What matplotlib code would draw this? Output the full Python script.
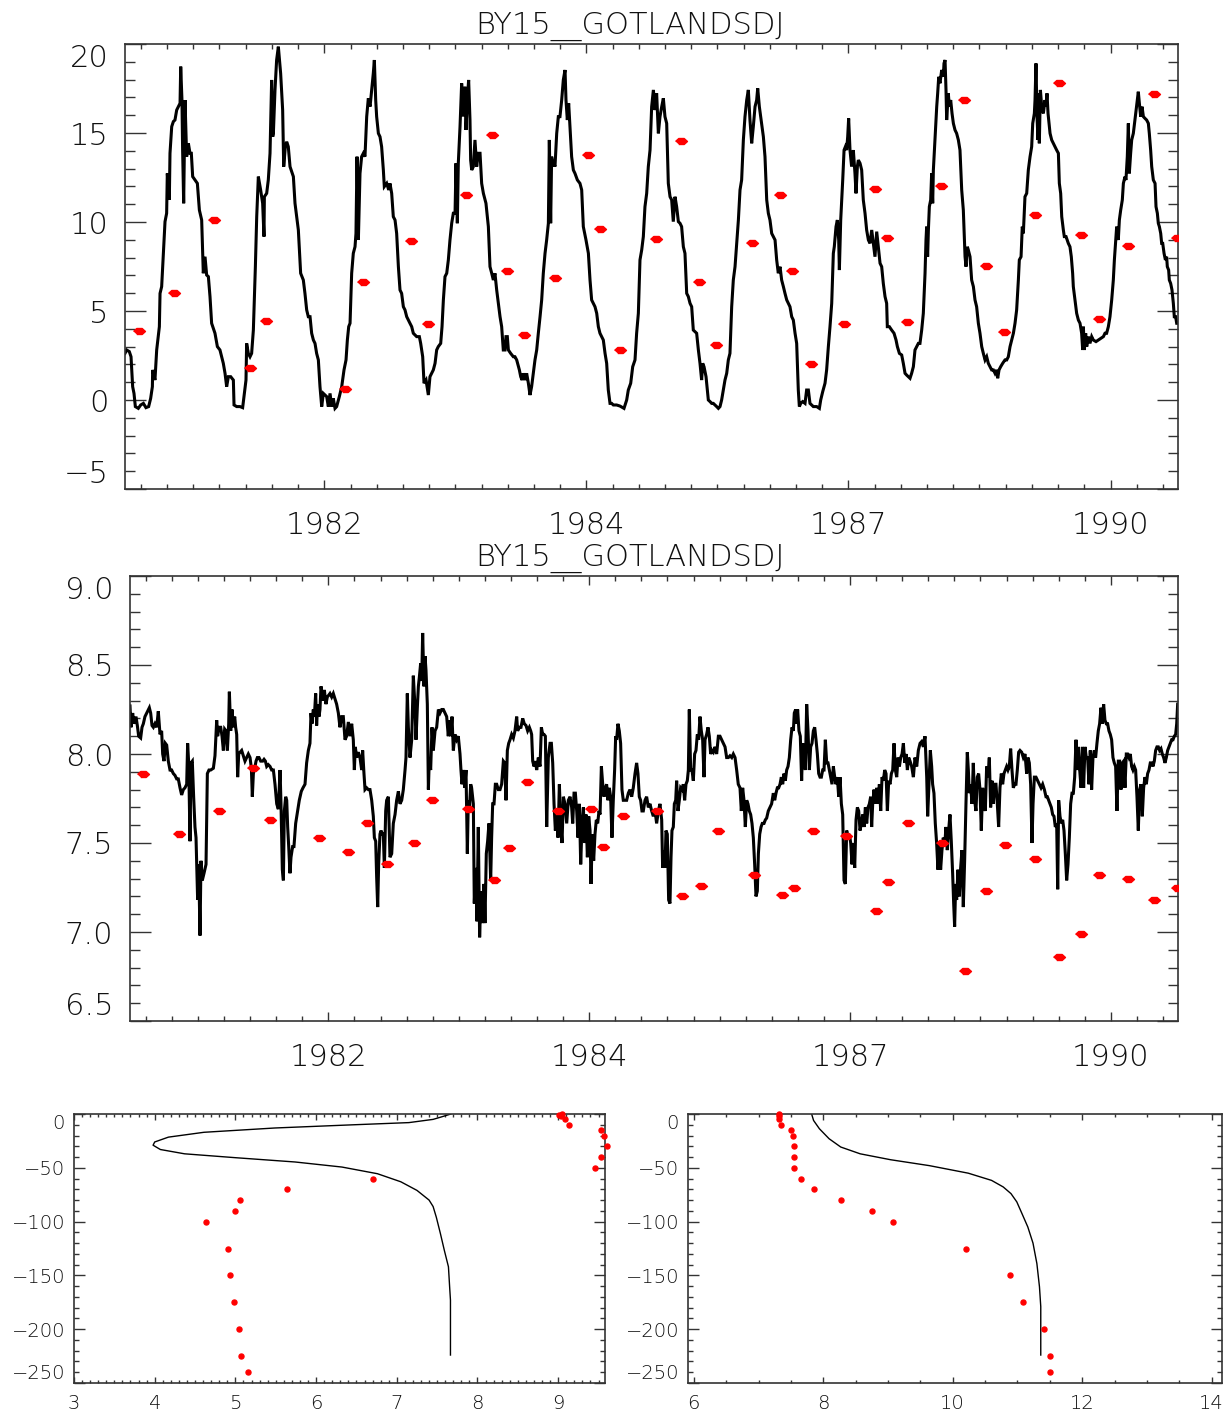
import numpy as np
import matplotlib
matplotlib.use('Agg')
import matplotlib.pyplot as plt
from matplotlib.ticker import MultipleLocator, FixedLocator, FuncFormatter

plt.rcParams['font.family'] = ['DejaVu Sans']
plt.rcParams['font.weight'] = 'light'

STATION = 'BY15__GOTLANDSDJ'

# time axis: years since 1980-01-01, record ends 1991-01-01 (4018 days)
RECORD_DAYS = 4018
tick_days = np.arange(760.5, RECORD_DAYS, 1000)      # JD multiples of 1000
minor_days = np.arange(60.5, RECORD_DAYS, 100)
tick_years = ['1982', '1984', '1987', '1990']

# surface temperature, model (years since 1980, deg C)
sst_model = [
    (0.000, 2.62), (0.017, 2.81), (0.045, 2.72), (0.063, 2.43), (0.080, 0.75), (0.094, 0.37), (0.108, -0.37),
    (0.139, -0.47), (0.164, -0.28), (0.192, -0.19), (0.219, -0.43), (0.247, -0.37), (0.268, 0.09), (0.286, 0.75),
    (0.289, 1.69), (0.313, 1.12), (0.331, 2.81), (0.359, 4.12), (0.366, 5.99), (0.383, 6.37), (0.394, 7.49),
    (0.407, 8.80), (0.418, 10.02), (0.435, 10.49), (0.442, 12.73), (0.463, 11.24), (0.470, 13.86), (0.488, 15.36),
    (0.505, 15.64), (0.522, 15.73), (0.540, 16.29), (0.557, 16.48), (0.575, 16.67), (0.582, 18.73), (0.595, 16.85),
    (0.602, 14.04), (0.613, 11.05), (0.627, 16.85), (0.644, 13.67), (0.662, 14.42), (0.679, 13.86), (0.693, 13.86),
    (0.707, 12.55), (0.731, 12.36), (0.756, 12.17), (0.777, 10.67), (0.801, 10.11), (0.818, 7.12), (0.836, 8.05),
    (0.853, 7.02), (0.871, 6.93), (0.888, 5.81), (0.905, 4.31), (0.940, 3.75), (0.965, 3.00), (0.992, 2.81),
    (1.027, 2.06), (1.045, 1.50), (1.062, 0.75), (1.080, 1.31), (1.104, 1.31), (1.132, 1.12), (1.139, -0.28),
    (1.167, -0.37), (1.201, -0.37), (1.229, -0.43), (1.247, 0.37), (1.264, 1.12), (1.271, 3.18), (1.288, 2.62),
    (1.306, 2.43), (1.323, 2.62), (1.341, 3.93), (1.351, 5.62), (1.362, 7.49), (1.376, 10.30), (1.393, 12.55),
    (1.417, 11.80), (1.438, 11.05), (1.452, 9.18), (1.456, 11.42), (1.480, 11.61), (1.497, 12.36), (1.515, 13.86),
    (1.532, 17.98), (1.543, 14.79), (1.550, 14.98), (1.567, 17.42), (1.584, 19.10), (1.602, 19.85), (1.626, 18.35),
    (1.647, 16.29), (1.658, 13.11), (1.675, 14.23), (1.689, 14.51), (1.706, 14.23), (1.724, 13.11), (1.741, 12.83),
    (1.759, 12.55), (1.776, 11.05), (1.811, 9.55), (1.835, 7.12), (1.863, 6.74), (1.880, 5.99), (1.898, 5.06),
    (1.915, 4.68), (1.933, 4.68), (1.950, 3.75), (1.968, 3.37), (1.985, 3.18), (2.002, 2.62), (2.020, 2.25),
    (2.037, 0.75), (2.055, -0.37), (2.072, 0.37), (2.089, 0.28), (2.107, 0.19), (2.124, -0.37), (2.142, 0.37),
    (2.159, -0.37), (2.176, 0.09), (2.194, -0.47), (2.211, -0.37), (2.239, 0.19), (2.264, 0.75), (2.288, 1.69),
    (2.309, 2.25), (2.323, 3.37), (2.337, 4.12), (2.351, 4.31), (2.368, 7.12), (2.385, 8.24), (2.403, 8.61),
    (2.413, 9.36), (2.424, 13.67), (2.438, 8.99), (2.455, 12.73), (2.472, 13.67), (2.490, 13.86), (2.507, 13.67),
    (2.525, 15.92), (2.542, 16.95), (2.560, 16.48), (2.577, 17.42), (2.594, 18.35), (2.605, 19.10), (2.619, 16.85),
    (2.629, 15.92), (2.647, 14.98), (2.664, 14.79), (2.681, 14.23), (2.699, 12.92), (2.709, 11.99), (2.734, 12.17),
    (2.755, 11.80),
    (2.768, 12.17), (2.786, 11.61), (2.803, 10.30), (2.821, 10.11), (2.838, 9.36), (2.856, 7.49), (2.873, 6.18),
    (2.890, 5.99), (2.908, 5.24), (2.925, 5.06), (2.943, 4.68), (2.960, 4.49), (2.977, 4.31), (2.995, 4.12),
    (3.012, 3.75), (3.030, 3.65), (3.047, 3.56), (3.075, 3.56), (3.089, 3.18), (3.110, 2.43), (3.124, 0.94),
    (3.145, 1.12), (3.169, 0.28), (3.186, 1.31), (3.204, 1.50), (3.221, 1.69), (3.239, 2.06), (3.256, 2.81),
    (3.273, 3.00), (3.298, 3.18), (3.312, 4.12), (3.326, 5.62), (3.343, 6.93), (3.361, 7.12), (3.378, 7.87),
    (3.395, 8.99), (3.413, 9.93), (3.430, 10.49), (3.448, 10.49), (3.458, 13.30), (3.472, 9.93), (3.482, 13.30),
    (3.500, 15.36), (3.517, 17.79), (3.535, 15.92), (3.552, 17.60), (3.562, 15.17), (3.576, 16.85), (3.590, 17.98),
    (3.604, 15.73), (3.611, 13.48), (3.622, 12.92), (3.639, 13.11), (3.656, 14.61), (3.674, 13.11), (3.691, 13.86),
    (3.709, 13.86), (3.726, 12.17), (3.744, 11.61), (3.771, 11.05), (3.796, 9.74), (3.813, 7.49), (3.831, 7.12),
    (3.848, 6.74), (3.865, 7.12), (3.883, 6.18), (3.900, 5.43), (3.918, 4.68), (3.935, 4.12), (3.952, 2.81),
    (3.970, 2.81), (3.980, 3.56), (3.994, 3.56), (4.005, 2.81), (4.029, 2.62), (4.057, 2.43), (4.074, 2.43),
    (4.092, 2.25), (4.120, 1.69), (4.134, 1.31), (4.148, 1.12), (4.161, 1.50), (4.179, 1.12), (4.196, 1.50),
    (4.214, 0.94), (4.231, 0.28), (4.248, 0.75), (4.266, 1.50), (4.283, 2.25), (4.301, 2.81), (4.318, 3.75),
    (4.336, 4.68), (4.353, 5.62), (4.370, 7.12), (4.388, 8.24), (4.405, 8.99), (4.423, 9.93), (4.433, 14.61),
    (4.447, 9.93), (4.457, 13.67), (4.475, 13.11), (4.482, 13.30), (4.492, 13.11), (4.510, 14.98), (4.527, 15.92),
    (4.544, 15.92), (4.562, 16.85), (4.579, 17.98), (4.597, 18.54), (4.607, 16.85), (4.621, 15.73), (4.635, 16.67),
    (4.649, 15.36), (4.666, 13.67), (4.684, 12.92), (4.701, 12.73), (4.726, 12.36), (4.753, 12.17), (4.771, 11.80),
    (4.788, 9.74), (4.816, 8.99), (4.841, 8.24), (4.858, 6.74), (4.875, 5.62), (4.893, 5.43), (4.910, 5.24),
    (4.928, 4.87), (4.945, 4.12), (4.962, 3.75), (4.980, 3.56), (4.997, 3.37), (5.015, 2.62), (5.032, 2.06),
    (5.049, 0.56), (5.067, -0.19), (5.084, -0.19), (5.102, -0.28), (5.136, -0.28), (5.171, -0.34), (5.213, -0.47),
    (5.241, 0.00), (5.258, 0.56), (5.283, 0.94), (5.304, 1.87), (5.328, 2.25), (5.345, 3.75), (5.363, 4.87),
    (5.380, 7.87), (5.398, 8.43), (5.415, 9.18), (5.432, 10.86), (5.450, 11.61), (5.467, 13.11), (5.485, 14.04),
    (5.502, 16.48), (5.520, 17.42), (5.537, 16.29), (5.554, 17.23), (5.572, 14.98),
    (5.589, 15.92), (5.607, 16.48), (5.624, 16.95), (5.641, 15.92), (5.659, 15.54), (5.676, 12.17), (5.694, 11.42),
    (5.711, 11.24), (5.728, 10.02), (5.746, 11.42), (5.763, 10.86), (5.781, 10.02), (5.798, 9.93), (5.815, 9.74),
    (5.833, 8.61), (5.850, 8.24), (5.868, 5.99), (5.885, 5.81), (5.903, 5.43), (5.920, 5.24), (5.937, 3.93),
    (5.972, 3.75), (5.990, 2.81), (6.007, 2.06), (6.024, 1.12), (6.035, 2.06), (6.049, 1.87), (6.070, 1.31),
    (6.094, 0.00), (6.112, -0.09), (6.129, -0.19), (6.146, -0.19), (6.164, -0.28), (6.181, -0.37), (6.199, -0.47),
    (6.216, -0.37), (6.233, 0.00), (6.251, 0.56), (6.268, 1.12), (6.286, 1.50), (6.303, 2.25), (6.320, 2.62),
    (6.338, 5.24), (6.355, 6.74), (6.373, 7.49), (6.390, 8.80), (6.408, 10.11), (6.425, 11.80), (6.442, 12.36),
    (6.460, 14.61), (6.477, 15.92), (6.495, 16.85), (6.512, 17.42), (6.529, 15.73), (6.547, 14.42), (6.564, 15.36),
    (6.582, 16.48), (6.599, 16.85), (6.610, 17.51), (6.627, 16.48), (6.651, 15.54), (6.669, 14.79), (6.686, 13.67),
    (6.704, 11.24), (6.721, 10.49), (6.738, 10.11), (6.756, 9.36), (6.773, 9.18), (6.791, 8.99), (6.808, 7.87),
    (6.825, 7.12), (6.843, 7.49), (6.860, 6.74), (6.878, 6.37), (6.895, 5.99), (6.913, 5.62), (6.930, 5.43),
    (6.947, 5.24), (6.965, 4.68), (6.982, 4.49), (7.000, 3.75), (7.017, 3.18), (7.034, 0.56), (7.045, -0.37),
    (7.059, -0.19), (7.080, -0.09), (7.104, -0.19), (7.121, 0.56), (7.139, 0.56), (7.156, -0.19), (7.174, -0.28),
    (7.191, -0.37), (7.226, -0.37), (7.254, -0.47), (7.268, 0.00), (7.289, 0.47), (7.313, 0.94), (7.330, 1.69),
    (7.348, 3.00), (7.365, 4.12), (7.383, 5.43), (7.400, 8.24), (7.410, 8.61), (7.428, 9.74), (7.442, 10.11),
    (7.456, 8.99), (7.463, 7.30), (7.477, 10.11), (7.498, 12.36), (7.512, 14.04), (7.526, 14.23), (7.539, 14.04),
    (7.550, 14.79), (7.560, 15.82), (7.574, 14.04), (7.591, 13.11), (7.609, 14.04), (7.626, 12.73), (7.637, 11.61),
    (7.651, 13.11), (7.661, 13.48), (7.679, 13.30), (7.696, 12.92), (7.713, 11.24), (7.731, 10.49), (7.748, 9.55),
    (7.766, 8.99), (7.783, 8.80), (7.801, 9.55), (7.818, 8.80), (7.835, 8.05), (7.853, 9.46), (7.870, 8.61),
    (7.888, 7.68), (7.905, 7.49), (7.922, 6.55), (7.940, 5.81), (7.957, 5.43), (7.964, 4.12), (7.985, 4.12),
    (8.009, 3.93), (8.034, 3.75), (8.055, 3.37), (8.069, 3.00), (8.090, 2.62), (8.114, 2.53), (8.131, 2.06),
    (8.149, 1.50), (8.166, 1.40), (8.184, 1.31), (8.201, 1.22),
    (8.218, 1.50), (8.236, 1.87), (8.253, 2.81), (8.271, 3.00), (8.288, 3.18), (8.305, 3.18), (8.323, 3.93),
    (8.340, 4.87), (8.358, 7.12), (8.368, 8.99), (8.375, 9.74), (8.385, 8.05), (8.393, 9.55), (8.403, 10.86),
    (8.417, 11.24), (8.427, 12.73), (8.438, 11.05), (8.445, 12.92), (8.462, 14.61), (8.480, 16.48), (8.490, 17.23),
    (8.501, 18.16), (8.514, 17.79), (8.532, 18.54), (8.549, 18.16), (8.556, 18.91), (8.567, 19.10), (8.577, 17.42),
    (8.584, 15.73), (8.601, 17.23), (8.612, 16.48), (8.626, 16.85), (8.640, 16.10), (8.654, 15.54), (8.671, 15.17),
    (8.688, 14.98), (8.706, 14.61), (8.723, 14.04), (8.734, 12.73), (8.741, 11.80), (8.758, 10.67), (8.776, 8.05),
    (8.786, 7.49), (8.800, 8.61), (8.810, 8.43), (8.828, 8.05), (8.845, 6.74), (8.863, 6.37), (8.880, 5.62),
    (8.897, 5.24), (8.915, 4.31), (8.932, 3.75), (8.950, 3.00), (8.967, 2.62), (8.985, 2.25), (9.002, 2.43),
    (9.019, 2.06), (9.037, 1.87), (9.054, 1.69), (9.072, 1.69), (9.089, 1.50), (9.106, 1.69), (9.117, 1.22),
    (9.131, 1.69), (9.148, 1.87), (9.169, 2.06), (9.193, 2.25), (9.211, 2.25), (9.228, 2.43), (9.246, 3.00),
    (9.263, 3.37), (9.281, 3.75), (9.298, 4.31), (9.315, 5.06), (9.333, 6.74), (9.343, 7.87), (9.361, 8.05),
    (9.374, 9.74), (9.385, 9.36), (9.402, 11.42), (9.420, 11.61), (9.437, 12.92), (9.455, 13.67), (9.472, 14.23),
    (9.483, 15.54), (9.500, 16.10), (9.507, 16.85), (9.517, 18.91), (9.528, 15.92), (9.538, 14.61), (9.545, 17.23),
    (9.552, 14.42), (9.563, 17.42), (9.577, 16.48), (9.594, 16.10), (9.611, 16.85), (9.622, 16.48), (9.632, 17.23),
    (9.643, 16.10), (9.664, 14.98), (9.681, 14.61), (9.698, 14.42), (9.716, 14.23), (9.733, 14.04), (9.751, 13.86),
    (9.761, 12.17), (9.775, 11.61), (9.786, 10.30), (9.803, 9.55), (9.813, 9.18), (9.831, 9.18), (9.855, 8.80),
    (9.872, 8.61), (9.886, 8.05), (9.900, 7.12), (9.907, 6.37), (9.925, 5.62), (9.942, 4.87), (9.960, 4.49),
    (9.977, 4.31), (9.994, 3.75), (10.005, 2.81), (10.012, 4.12), (10.022, 2.81), (10.036, 3.75), (10.047, 3.00),
    (10.064, 3.56), (10.081, 3.18), (10.099, 3.56), (10.116, 3.37), (10.144, 3.28), (10.169, 3.37), (10.193, 3.46),
    (10.221, 3.56), (10.238, 3.75), (10.255, 3.75), (10.273, 4.12), (10.290, 4.68), (10.308, 5.62), (10.325, 6.74),
    (10.336, 7.87), (10.350, 8.99), (10.360, 9.74), (10.377, 8.99), (10.388, 10.11), (10.402, 10.67), (10.419, 11.24),
    (10.430, 12.17), (10.447, 12.55), (10.457, 12.36), (10.471, 13.67), (10.482, 15.54), (10.492, 12.73),
    (10.506, 13.86), (10.517, 14.61), (10.534, 14.98), (10.551, 15.73), (10.569, 16.48), (10.586, 17.32),
    (10.597, 16.67), (10.611, 15.92), (10.625, 16.48), (10.639, 15.92), (10.656, 15.82), (10.673, 15.73),
    (10.691, 15.54), (10.701, 14.98), (10.715, 14.04), (10.726, 13.11), (10.743, 12.36), (10.761, 12.17),
    (10.771, 10.86), (10.785, 10.49), (10.795, 9.93), (10.806, 9.74), (10.820, 9.36), (10.830, 8.80), (10.841, 8.80),
    (10.855, 8.24), (10.869, 7.87), (10.882, 8.05), (10.889, 7.49), (10.903, 7.30), (10.910, 6.74), (10.924, 6.55),
    (10.938, 6.18), (10.952, 5.43), (10.962, 4.68), (10.976, 4.68), (10.987, 4.31), (10.997, 4.31),
]

# surface temperature, observations
sst_obs_t = [0.149, 0.515, 0.933, 1.306, 1.473, 2.295, 2.490, 2.988, 3.169, 3.559, 3.831, 3.988, 4.172, 4.495,
             4.840, 4.962, 5.175, 5.547, 5.805, 5.997, 6.177, 6.550, 6.843, 6.971, 7.170, 7.515, 7.838, 7.958,
             8.167, 8.522, 8.765, 8.992, 9.183, 9.507, 9.754, 9.984, 10.176, 10.482, 10.753, 10.987]
sst_obs = [3.88, 6.03, 10.11, 1.80, 4.42, 0.63, 6.61, 8.92, 4.29, 11.50, 14.89, 7.26, 3.63, 6.84,
           13.75, 9.62, 2.81, 9.04, 14.55, 6.63, 3.11, 8.84, 11.52, 7.23, 2.01, 4.25, 11.84, 9.10,
           4.38, 12.04, 16.84, 7.53, 3.80, 10.38, 17.79, 9.25, 4.53, 8.63, 17.17, 9.10]

# surface pH, model
ph_model = [
    (0.000, 8.27), (0.010, 8.15), (0.028, 8.23), (0.042, 8.17), (0.063, 8.21), (0.077, 8.16), (0.091, 8.10),
    (0.112, 8.09), (0.126, 8.15), (0.140, 8.17), (0.157, 8.21), (0.175, 8.23), (0.192, 8.25), (0.203, 8.26),
    (0.217, 8.23), (0.231, 8.16), (0.245, 8.15), (0.262, 8.17), (0.280, 8.15), (0.297, 8.24), (0.315, 8.11),
    (0.332, 8.13), (0.343, 8.00), (0.357, 7.96), (0.371, 8.06), (0.385, 8.05), (0.402, 7.96), (0.420, 7.91),
    (0.437, 7.91), (0.455, 7.89), (0.472, 7.88), (0.490, 7.86), (0.507, 7.86), (0.525, 7.81), (0.542, 7.77),
    (0.560, 7.80), (0.577, 7.81), (0.595, 7.83), (0.605, 8.06), (0.616, 7.95), (0.630, 7.51), (0.640, 7.95),
    (0.654, 7.96), (0.668, 7.76), (0.682, 7.59), (0.693, 7.53), (0.710, 7.18), (0.721, 7.38), (0.735, 6.98),
    (0.745, 7.40), (0.759, 7.29), (0.777, 7.33), (0.798, 7.38), (0.812, 7.89), (0.829, 7.91), (0.847, 7.91),
    (0.875, 7.92), (0.892, 7.99), (0.910, 8.19), (0.920, 8.10), (0.934, 8.15), (0.952, 8.15), (0.966, 8.10),
    (0.980, 8.02), (0.994, 8.14), (1.008, 8.13), (1.022, 8.02), (1.036, 8.17), (1.043, 8.35), (1.057, 8.13),
    (1.071, 8.25), (1.085, 8.15), (1.099, 8.21), (1.109, 8.15), (1.120, 8.11), (1.130, 7.87), (1.141, 8.00),
    (1.155, 8.01), (1.172, 8.02), (1.190, 7.99), (1.207, 7.96), (1.225, 7.98), (1.242, 8.00), (1.260, 7.98),
    (1.274, 7.92), (1.284, 7.76), (1.295, 7.89), (1.309, 7.92), (1.323, 7.96), (1.337, 7.98), (1.354, 7.98),
    (1.372, 7.96), (1.393, 7.96), (1.407, 7.97), (1.421, 7.96), (1.435, 7.93), (1.452, 7.94), (1.470, 7.93),
    (1.487, 7.91), (1.505, 7.91), (1.522, 7.83), (1.540, 7.72), (1.557, 7.69), (1.575, 7.91), (1.585, 7.72),
    (1.599, 7.35), (1.610, 7.29), (1.620, 7.68), (1.634, 7.76), (1.645, 7.74), (1.655, 7.59), (1.666, 7.48),
    (1.679, 7.33), (1.690, 7.42), (1.707, 7.48), (1.721, 7.48), (1.739, 7.61), (1.760, 7.68), (1.777, 7.74),
    (1.798, 7.79), (1.816, 7.81), (1.837, 7.83), (1.854, 7.95), (1.872, 8.02), (1.889, 8.06), (1.900, 8.23),
    (1.910, 8.17), (1.924, 8.25), (1.935, 8.21), (1.949, 8.34), (1.959, 8.16), (1.970, 8.28), (1.984, 8.21),
    (1.994, 8.25), (2.005, 8.38), (2.019, 8.33), (2.029, 8.30), (2.040, 8.36), (2.057, 8.28), (2.071, 8.32),
    (2.085, 8.33), (2.099, 8.34), (2.117, 8.32), (2.134, 8.34), (2.152, 8.31), (2.169, 8.28), (2.187, 8.23),
    (2.204, 8.15), (2.222, 8.21), (2.239, 8.21), (2.257, 8.08), (2.274, 8.10), (2.292, 8.18), (2.309, 8.10),
    (2.327, 8.17), (2.344, 8.08), (2.355, 7.91), (2.365, 8.04), (2.379, 7.98), (2.397, 8.01), (2.414, 7.98),
    (2.432, 7.91), (2.442, 8.02), (2.456, 7.89), (2.467, 7.80), (2.484, 7.81), (2.502, 7.80), (2.519, 7.80),
    (2.537, 7.74), (2.554, 7.65), (2.565, 7.53), (2.579, 7.51), (2.589, 7.31), (2.600, 7.14), (2.610, 7.38),
    (2.624, 7.55), (2.635, 7.57), (2.649, 7.55), (2.659, 7.55), (2.670, 7.36), (2.684, 7.68), (2.694, 7.74),
    (2.712, 7.76),
    (2.729, 7.42), (2.747, 7.44), (2.764, 7.61), (2.782, 7.66), (2.799, 7.74), (2.817, 7.79), (2.834, 7.72),
    (2.852, 7.74), (2.869, 7.80), (2.887, 7.91), (2.897, 7.98), (2.911, 8.34), (2.922, 8.15), (2.939, 7.98),
    (2.957, 8.08), (2.974, 8.44), (2.992, 8.26), (3.002, 8.08), (3.016, 8.26), (3.027, 8.38), (3.037, 8.43),
    (3.051, 8.51), (3.062, 8.41), (3.072, 8.68), (3.086, 8.38), (3.097, 8.55), (3.107, 8.47), (3.121, 8.28),
    (3.132, 7.80), (3.142, 7.98), (3.156, 7.91), (3.170, 8.15), (3.184, 8.02), (3.202, 8.13), (3.219, 8.15),
    (3.237, 8.25), (3.254, 8.23), (3.272, 8.25), (3.289, 8.25), (3.307, 8.23), (3.324, 8.21), (3.341, 8.10),
    (3.352, 8.19), (3.366, 8.10), (3.380, 8.21), (3.394, 8.02), (3.411, 8.11), (3.429, 8.08), (3.446, 8.10),
    (3.464, 8.00), (3.474, 7.91), (3.485, 7.83), (3.499, 7.91), (3.513, 7.81), (3.527, 7.91), (3.541, 7.44),
    (3.551, 7.74), (3.562, 7.68), (3.576, 7.83), (3.586, 7.81), (3.604, 7.72), (3.614, 7.16), (3.628, 7.36),
    (3.642, 7.06), (3.656, 7.59), (3.670, 6.97), (3.684, 7.23), (3.702, 7.05), (3.716, 7.27), (3.726, 7.05),
    (3.740, 7.44), (3.754, 7.51), (3.768, 7.61), (3.786, 7.29), (3.796, 7.53), (3.807, 7.72), (3.821, 7.72),
    (3.835, 7.83), (3.849, 7.83), (3.866, 7.80), (3.884, 7.80), (3.901, 7.83), (3.919, 7.96), (3.933, 7.95),
    (3.947, 7.74), (3.961, 8.02), (3.975, 8.06), (3.989, 8.08), (4.006, 8.11), (4.024, 8.09), (4.041, 8.13),
    (4.059, 8.21), (4.069, 8.13), (4.087, 8.15), (4.104, 8.15), (4.122, 8.20), (4.139, 8.17), (4.157, 8.16),
    (4.174, 8.13), (4.192, 8.15), (4.206, 8.13), (4.216, 8.11), (4.227, 7.96), (4.241, 7.93), (4.255, 7.96),
    (4.269, 7.91), (4.286, 7.98), (4.304, 7.93), (4.318, 8.15), (4.332, 8.11), (4.346, 8.11), (4.360, 8.10),
    (4.374, 7.59), (4.391, 7.98), (4.409, 8.06), (4.423, 8.06), (4.437, 7.95), (4.451, 7.72), (4.465, 7.57),
    (4.479, 7.68), (4.493, 7.53), (4.507, 7.83), (4.521, 7.61), (4.535, 7.50), (4.549, 7.76), (4.566, 7.72),
    (4.584, 7.61), (4.601, 7.74), (4.619, 7.76), (4.636, 7.70), (4.647, 7.61), (4.661, 7.78), (4.675, 7.78),
    (4.689, 7.68), (4.703, 7.53), (4.717, 7.72), (4.731, 7.38), (4.745, 7.61), (4.759, 7.70), (4.773, 7.50),
    (4.787, 7.66), (4.801, 7.42), (4.815, 7.65), (4.829, 7.57), (4.839, 7.27), (4.853, 7.55), (4.867, 7.40),
    (4.881, 7.55), (4.895, 7.63), (4.909, 7.61), (4.923, 7.68), (4.934, 7.66), (4.948, 7.93), (4.962, 7.83),
    (4.976, 7.76), (4.990, 7.81), (5.003, 7.83), (5.017, 7.74), (5.031, 7.81), (5.045, 7.76), (5.059, 7.53),
    (5.073, 7.74), (5.087, 7.91), (5.098, 8.10), (5.108, 8.08), (5.122, 8.17), (5.136, 8.13), (5.150, 8.06),
    (5.164, 7.80), (5.178, 7.74), (5.196, 7.74), (5.213, 7.74), (5.231, 7.78), (5.248, 7.80), (5.266, 7.76),
    (5.283, 7.81), (5.301, 7.89), (5.318, 7.95), (5.332, 7.89), (5.346, 7.76), (5.360, 7.74), (5.374, 7.68),
    (5.388, 7.68), (5.406, 7.74), (5.423, 7.76), (5.441, 7.70), (5.458, 7.72), (5.476, 7.68), (5.493, 7.65),
    (5.511, 7.68), (5.528, 7.61), (5.546, 7.68), (5.563, 7.72),
    (5.581, 7.63), (5.591, 7.36), (5.605, 7.46), (5.616, 7.36), (5.626, 7.57), (5.640, 7.55), (5.654, 7.18),
    (5.668, 7.16), (5.679, 7.42), (5.689, 7.57), (5.703, 7.59), (5.714, 7.72), (5.728, 7.74), (5.738, 7.85),
    (5.752, 7.68), (5.766, 7.74), (5.780, 7.81), (5.794, 7.80), (5.808, 7.83), (5.822, 7.74), (5.836, 7.83),
    (5.850, 7.85), (5.861, 7.91), (5.871, 8.25), (5.885, 7.91), (5.899, 7.91), (5.913, 7.85), (5.927, 8.00),
    (5.941, 8.02), (5.955, 8.11), (5.969, 8.08), (5.983, 8.21), (5.997, 8.13), (6.011, 8.08), (6.025, 7.87),
    (6.036, 8.08), (6.053, 8.11), (6.067, 8.15), (6.081, 8.10), (6.095, 8.00), (6.109, 8.02), (6.123, 8.01),
    (6.141, 8.04), (6.158, 8.00), (6.176, 8.10), (6.193, 8.10), (6.211, 8.08), (6.228, 8.06), (6.246, 8.04),
    (6.263, 7.98), (6.281, 7.98), (6.298, 7.99), (6.316, 7.98), (6.333, 8.00), (6.351, 7.98), (6.368, 7.91),
    (6.385, 7.83), (6.403, 7.81), (6.417, 7.68), (6.431, 7.81), (6.445, 7.74), (6.459, 7.59), (6.473, 7.74),
    (6.487, 7.72), (6.501, 7.68), (6.515, 7.66), (6.529, 7.61), (6.543, 7.53), (6.557, 7.38), (6.571, 7.20),
    (6.585, 7.23), (6.596, 7.44), (6.610, 7.55), (6.624, 7.59), (6.637, 7.61), (6.655, 7.61), (6.669, 7.63),
    (6.683, 7.64), (6.700, 7.68), (6.718, 7.70), (6.735, 7.72), (6.753, 7.78), (6.767, 7.74), (6.781, 7.78),
    (6.795, 7.81), (6.809, 7.81), (6.823, 7.83), (6.837, 7.87), (6.851, 7.83), (6.865, 7.89), (6.879, 7.85),
    (6.893, 7.91), (6.907, 7.93), (6.921, 7.98), (6.935, 8.08), (6.949, 8.15), (6.963, 8.13), (6.973, 8.23),
    (6.987, 8.25), (6.998, 8.17), (7.008, 8.25), (7.022, 8.13), (7.036, 8.10), (7.050, 7.85), (7.061, 8.06),
    (7.075, 7.98), (7.089, 7.91), (7.103, 8.28), (7.117, 8.13), (7.131, 7.91), (7.145, 8.04), (7.159, 8.06),
    (7.173, 8.13), (7.187, 8.15), (7.201, 8.08), (7.215, 8.00), (7.229, 7.89), (7.243, 7.87), (7.257, 7.87),
    (7.271, 7.91), (7.285, 7.91), (7.299, 8.08), (7.313, 7.95), (7.327, 7.95), (7.341, 7.91), (7.355, 7.87),
    (7.369, 7.83), (7.383, 7.93), (7.397, 7.87), (7.411, 7.83), (7.425, 7.87), (7.439, 7.76), (7.453, 7.87),
    (7.467, 7.72), (7.481, 7.66), (7.495, 7.29), (7.509, 7.27), (7.523, 7.57), (7.537, 7.53), (7.551, 7.55),
    (7.565, 7.50), (7.579, 7.38), (7.593, 7.50), (7.607, 7.36), (7.621, 7.63), (7.635, 7.70), (7.649, 7.68),
    (7.663, 7.57), (7.677, 7.61), (7.691, 7.66), (7.705, 7.59), (7.719, 7.70), (7.733, 7.61), (7.747, 7.70),
    (7.761, 7.72), (7.775, 7.76), (7.785, 7.59), (7.796, 7.72), (7.810, 7.80), (7.824, 7.72), (7.838, 7.81),
    (7.852, 7.72), (7.866, 7.83), (7.880, 7.68), (7.894, 7.87), (7.908, 7.85), (7.922, 7.91), (7.936, 7.89),
    (7.950, 7.68), (7.964, 7.85), (7.978, 7.83), (7.992, 7.89), (8.006, 7.91), (8.020, 8.06), (8.034, 7.91),
    (8.048, 7.87), (8.062, 7.98), (8.076, 7.93), (8.090, 7.98), (8.104, 8.00), (8.118, 8.06), (8.132, 7.95),
    (8.146, 8.00), (8.160, 7.91), (8.174, 7.98), (8.188, 7.96),
    (8.205, 7.93), (8.223, 7.87), (8.240, 7.98), (8.258, 7.93), (8.275, 8.02), (8.293, 8.06), (8.310, 8.07),
    (8.328, 8.04), (8.345, 8.10), (8.363, 7.87), (8.373, 7.65), (8.387, 7.83), (8.401, 8.02), (8.415, 7.93),
    (8.425, 7.83), (8.439, 7.78), (8.453, 7.61), (8.467, 7.50), (8.481, 7.35), (8.495, 7.50), (8.509, 7.35),
    (8.523, 7.46), (8.537, 7.53), (8.551, 7.48), (8.565, 7.59), (8.579, 7.46), (8.593, 7.57), (8.607, 7.66),
    (8.621, 7.51), (8.635, 7.33), (8.646, 7.16), (8.656, 7.03), (8.667, 7.27), (8.677, 7.18), (8.691, 7.35),
    (8.705, 7.20), (8.719, 7.36), (8.733, 7.46), (8.747, 7.14), (8.761, 7.40), (8.775, 7.72), (8.789, 8.01),
    (8.800, 7.91), (8.810, 7.78), (8.824, 7.83), (8.838, 7.72), (8.852, 7.95), (8.866, 7.74), (8.880, 7.68),
    (8.894, 7.87), (8.908, 7.89), (8.922, 7.80), (8.936, 7.57), (8.950, 7.81), (8.964, 7.72), (8.978, 7.68),
    (8.992, 7.93), (9.006, 7.87), (9.020, 7.98), (9.034, 7.70), (9.048, 7.85), (9.062, 7.72), (9.076, 7.83),
    (9.090, 7.83), (9.104, 7.72), (9.118, 7.59), (9.132, 7.81), (9.146, 7.89), (9.160, 7.83), (9.174, 7.89),
    (9.188, 7.91), (9.202, 7.93), (9.216, 7.91), (9.230, 7.93), (9.244, 8.03), (9.258, 7.91), (9.272, 7.81),
    (9.286, 7.83), (9.300, 7.83), (9.314, 7.91), (9.328, 8.01), (9.342, 8.02), (9.360, 8.01), (9.377, 7.98),
    (9.395, 8.00), (9.412, 7.89), (9.426, 7.98), (9.440, 7.95), (9.454, 7.83), (9.468, 7.50), (9.479, 7.72),
    (9.493, 7.87), (9.510, 7.87), (9.528, 7.85), (9.545, 7.83), (9.563, 7.81), (9.580, 7.83), (9.598, 7.80),
    (9.615, 7.76), (9.629, 7.76), (9.643, 7.74), (9.657, 7.72), (9.671, 7.70), (9.685, 7.66), (9.699, 7.65),
    (9.713, 7.59), (9.727, 7.61), (9.738, 7.24), (9.748, 7.74), (9.762, 7.65), (9.776, 7.61), (9.790, 7.63),
    (9.804, 7.57), (9.818, 7.44), (9.832, 7.29), (9.846, 7.38), (9.860, 7.53), (9.874, 7.72), (9.888, 7.78),
    (9.902, 7.78), (9.916, 7.87), (9.930, 8.08), (9.944, 7.91), (9.955, 8.04), (9.969, 7.91), (9.983, 7.81),
    (9.997, 8.04), (10.010, 7.81), (10.024, 8.04), (10.038, 7.98), (10.052, 7.98), (10.066, 7.83), (10.080, 8.02),
    (10.094, 7.80), (10.108, 7.98), (10.122, 8.02), (10.136, 7.98), (10.150, 8.06), (10.164, 8.13), (10.178, 8.17),
    (10.192, 8.26), (10.206, 8.17), (10.220, 8.28), (10.234, 8.19), (10.248, 8.17), (10.262, 8.17), (10.276, 8.13),
    (10.290, 8.11), (10.304, 8.08), (10.318, 7.98), (10.332, 7.95), (10.346, 7.93), (10.360, 7.68), (10.374, 7.96),
    (10.388, 7.96), (10.402, 7.80), (10.416, 7.95), (10.430, 7.96), (10.444, 7.81), (10.458, 8.00), (10.472, 8.00),
    (10.486, 7.98), (10.500, 8.00), (10.514, 7.93), (10.528, 7.91), (10.542, 7.93), (10.556, 7.91), (10.570, 7.76),
    (10.584, 7.57), (10.598, 7.80), (10.612, 7.83), (10.626, 7.65), (10.640, 7.81), (10.654, 7.87), (10.668, 7.83),
    (10.682, 7.89), (10.696, 7.91), (10.710, 7.95), (10.724, 7.95), (10.738, 7.93), (10.752, 7.96), (10.766, 8.02),
    (10.780, 8.04), (10.794, 8.04), (10.808, 8.02), (10.822, 8.03), (10.836, 8.00), (10.850, 7.98), (10.864, 7.95),
    (10.878, 7.98), (10.892, 8.02), (10.906, 8.04), (10.920, 8.06), (10.934, 8.08), (10.948, 8.08), (10.962, 8.10),
    (10.976, 8.11), (10.987, 8.17), (10.997, 8.28),
]

# surface pH, observations
ph_obs_t = [0.140, 0.514, 0.931, 1.294, 1.470, 1.984, 2.291, 2.485, 2.694, 2.984, 3.167, 3.551, 3.824, 3.981,
            4.170, 4.496, 4.839, 4.962, 5.172, 5.529, 5.797, 5.990, 6.175, 6.553, 6.841, 6.970, 7.166, 7.512,
            7.834, 7.953, 8.163, 8.520, 8.765, 8.985, 9.181, 9.503, 9.751, 9.982, 10.174, 10.479, 10.752, 10.987]
ph_obs = [7.89, 7.55, 7.68, 7.92, 7.63, 7.53, 7.45, 7.61, 7.38, 7.50, 7.74, 7.69, 7.29, 7.47,
          7.84, 7.68, 7.69, 7.48, 7.65, 7.68, 7.20, 7.26, 7.57, 7.32, 7.21, 7.25, 7.57, 7.54,
          7.12, 7.28, 7.61, 7.50, 6.78, 7.23, 7.49, 7.41, 6.86, 6.99, 7.32, 7.30, 7.18, 7.25]

# vertical profiles (depth in m, negative down)
temp_prof_depth = [0, -3, -5, -8, -10, -13, -17, -21.5, -26, -29, -33, -37, -40.6, -44.6, -49.3, -55.5,
                   -63, -71, -80, -86, -96, -111, -127, -142, -161, -173, -224]
temp_prof_model = [7.67, 7.54, 7.45, 7.15, 6.47, 5.49, 4.61, 4.17, 4.00, 3.98, 4.07, 4.37, 5.00, 5.74, 6.32, 6.76,
                   7.05, 7.25, 7.40, 7.45, 7.49, 7.54, 7.59, 7.64, 7.655, 7.665, 7.665]
temp_obs_depth = [0, -1, -2, -5, -10, -15, -20, -30, -40, -50, -60, -70, -80, -90, -100, -125, -150, -175,
                  -200, -225, -240]
temp_obs = [9.05, 9.01, 9.03, 9.08, 9.14, 9.53, 9.57, 9.60, 9.53, 9.45, 6.70, 5.64, 5.06, 4.99, 4.63, 4.91, 4.93,
            4.98, 5.05, 5.07, 5.15]

sal_prof_depth = [0, -6, -13.7, -23, -30.7, -37, -42.5, -48, -55, -61.7, -67.8, -74, -81.7, -92.6, -105, -120,
                  -139, -160.6, -179, -224]
sal_prof_model = [7.82, 7.85, 7.94, 8.09, 8.27, 8.57, 9.04, 9.64, 10.24, 10.60, 10.78, 10.90, 10.99, 11.07, 11.16,
                  11.24, 11.30, 11.34, 11.36, 11.36]
sal_obs_depth = [0, -2, -5, -10, -15, -20, -30, -40, -50, -60, -70, -80, -90, -100, -125, -150, -175, -200,
                 -225, -240]
sal_obs = [7.31, 7.31, 7.31, 7.35, 7.50, 7.53, 7.55, 7.55, 7.54, 7.65, 7.85, 8.27, 8.75, 9.07, 10.20, 10.88,
           11.09, 11.41, 11.50, 11.50]


W, H = 1228, 1416
fig = plt.figure(figsize=(W / 100, H / 100), dpi=100)


def box(left, top, right, bottom):
    return [left / W, 1 - bottom / H, (right - left) / W, (bottom - top) / H]


def minus(fmt):
    return FuncFormatter(lambda v, pos: (fmt % v).replace('-', '\u2212'))


def idl_frame(ax, yticks, xlen, ylen, size, xpad, ypad):
    for sp in ax.spines.values():
        sp.set_linewidth(1.2)
        sp.set_color('#333333')
    ax.yaxis.set_major_locator(FixedLocator(yticks))
    ax.tick_params(which='both', direction='in', top=True, right=True,
                   color='#333333', width=1.0, labelsize=size, labelcolor='#111111')
    ax.tick_params(axis='x', which='major', length=xlen, pad=xpad)
    ax.tick_params(axis='x', which='minor', length=xlen / 2)
    ax.tick_params(axis='y', which='major', length=ylen, pad=ypad)
    ax.tick_params(axis='y', which='minor', length=ylen / 2)
    # keep the end labels inside the frame
    yt = ax.yaxis.get_major_ticks()
    yt[0].label1.set_va('bottom')
    yt[-1].label1.set_va('top')


# lozenge used for the observation markers
lozenge = [(-1, 0), (-0.45, 0.5), (0.45, 0.5), (1, 0), (0.45, -0.5), (-0.45, -0.5)]


def time_panel(pos, model, obs_t, obs, ylim, ystep, yminor, fmt):
    ax = fig.add_axes(pos)
    m = np.array(model)
    ax.plot(m[:, 0] * 365.25, m[:, 1], color='black', lw=2.2, solid_joinstyle='miter')
    ax.plot(np.array(obs_t) * 365.25, obs, ls='none', marker=lozenge, ms=8.6,
            color='#ff0000', mec='#ff0000', zorder=3)
    ax.set_xlim(0, RECORD_DAYS)
    ax.set_ylim(*ylim)
    ax.xaxis.set_major_locator(FixedLocator(tick_days))
    ax.xaxis.set_minor_locator(FixedLocator(minor_days))
    ax.set_xticklabels(tick_years)
    ax.yaxis.set_minor_locator(MultipleLocator(yminor))
    ax.yaxis.set_major_formatter(minus(fmt))
    idl_frame(ax, np.arange(ylim[0], ylim[1] + ystep / 2, ystep), 6.5, 15.0, 22, 15.5, 12)
    return ax


time_panel(box(125, 44, 1178, 489), sst_model, sst_obs_t, sst_obs, (-5, 20), 5, 1, '%d')
fig.text(630 / W, 1 - 34 / H, STATION, ha='center', va='baseline', fontsize=22, color='#111111')

time_panel(box(130, 576, 1178, 1021), ph_model, ph_obs_t, ph_obs, (6.5, 9.0), 0.5, 0.1, '%.1f')
fig.text(630 / W, 1 - 566 / H, STATION, ha='center', va='baseline', fontsize=22, color='#111111')


def profile_panel(pos, depth, model, obs_depth, obs, xlim, xstep, xminor):
    ax = fig.add_axes(pos)
    ax.plot(model, depth, color='black', lw=1.0)
    ax.plot(obs, obs_depth, ls='none', marker='o', ms=3.6, color='#ff0000', clip_on=False, zorder=3)
    ax.set_xlim(*xlim)
    ax.set_ylim(-250, 0)
    ax.xaxis.set_major_locator(MultipleLocator(xstep))
    ax.xaxis.set_minor_locator(MultipleLocator(xminor))
    ax.yaxis.set_minor_locator(MultipleLocator(10))
    ax.yaxis.set_major_formatter(minus('%d'))
    idl_frame(ax, np.arange(-250, 1, 50), 4.0, 7.7, 14, 8, 6.5)
    return ax


profile_panel(box(74, 1114, 605, 1383), temp_prof_depth, temp_prof_model, temp_obs_depth, temp_obs,
              (3, 9.58), 1, 0.1)
profile_panel(box(688, 1114, 1222, 1383), sal_prof_depth, sal_prof_model, sal_obs_depth, sal_obs,
              (5.91, 14.16), 2, 0.5)

fig.savefig('out.png', dpi=100)
